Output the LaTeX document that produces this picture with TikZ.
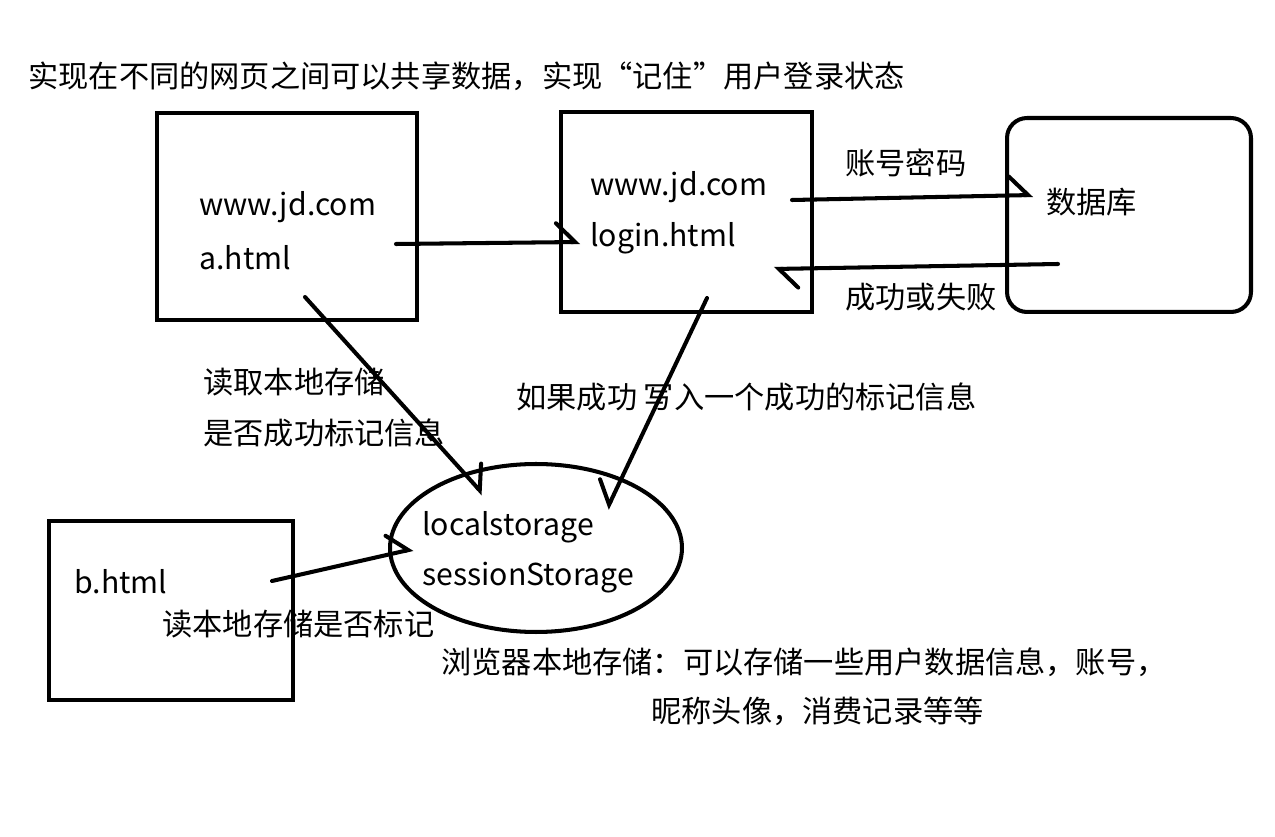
\documentclass[tikz,border=0pt]{standalone}
\usepackage{fontspec}
\setmainfont{Noto Sans CJK SC}
\usetikzlibrary{arrows.meta,shapes.geometric}

\tikzset{
  pen/.style={line width=2.3pt},
  box/.style={pen, draw=black, inner sep=0pt},
  note/.style={anchor=west, inner sep=0pt, font=\fontsize{17.2}{21}\selectfont},
  stroke/.style={pen, line cap=round, -{Straight Barb[harpoon, length=0.38cm, width=0.76cm, line cap=round]}},
  strokeswap/.style={pen, line cap=round, -{Straight Barb[harpoon, swap, length=0.38cm, width=0.76cm, line cap=round]}},
}

\begin{document}
\begin{tikzpicture}[x=0.02cm, y=-0.02cm]
  \useasboundingbox (0,0) rectangle (1275,837);

  %%%%% BOXES %%%%%
  \node[box, minimum width=5.2cm, minimum height=4.14cm] (pageA) at (287,216.5) {};
  \node[box, minimum width=5.02cm, minimum height=4.0cm] (pageLogin) at (686.5,212) {};
  \node[box, rounded corners=0.4cm, minimum width=4.88cm, minimum height=3.88cm] (db) at (1129,215) {};
  \node[box, minimum width=4.88cm, minimum height=3.58cm] (pageB) at (171,610.5) {};
  \node[box, ellipse, minimum width=5.84cm, minimum height=3.36cm] (store) at (536,548) {};

  %%%%% TEXTS %%%%%
  \node[note] (title) at (28,76) {实现在不同的网页之间可以共享数据，实现“记住”用户登录状态};
  \node[note] (aHost) at (199,207) {www.jd.com};
  \node[note] (aFile) at (199,258) {a.html};
  \node[note] (loginHost) at (590,187) {www.jd.com};
  \node[note] (loginFile) at (590,238) {login.html};
  \node[note] (dbName) at (1046,202) {数据库};
  \node[note] (sendLabel) at (845,163) {账号密码};
  \node[note] (backLabel) at (845,297) {成功或失败};
  \node[note] (readA) at (203,382) {读取本地存储};
  \node[note] (readB) at (203,433) {是否成功标记信息};
  \node[note] (writeLabel) at (516,397) {如果成功 写入一个成功的标记信息};
  \node[note] (local) at (422,527) {localstorage};
  \node[note] (session) at (422,578) {sessionStorage};
  \node[note] (bFile) at (74,582) {b.html};
  \node[note] (readBLabel) at (162,624) {读本地存储是否标记};
  \node[note] (info) at (441,662) {浏览器本地存储：可以存储一些用户数据信息，账号，};
  \node[note] (infoMore) at (651,711) {昵称头像，消费记录等等};

  %%%%% ARROWS %%%%%
  \coordinate (aOut) at (396,244);
  \coordinate (loginIn) at (580,242);
  \coordinate (loginOut) at (792,200);
  \coordinate (dbIn) at (1033,195);
  \coordinate (dbOut) at (1058,264);
  \coordinate (loginBack) at (774,269);
  \coordinate (aDown) at (305,297);
  \coordinate (storeTopL) at (483,494);
  \coordinate (loginDown) at (707,298);
  \coordinate (storeTopR) at (607,509);
  \coordinate (bOut) at (272,581);
  \coordinate (storeLeft) at (413,549);

  \draw[stroke] (aOut) -- (loginIn);
  \draw[stroke] (loginOut) -- (dbIn);
  \draw[stroke] (dbOut) -- (loginBack);
  \draw[stroke] (aDown) -- (storeTopL);
  \draw[strokeswap] (loginDown) -- (storeTopR);
  \draw[stroke] (bOut) -- (storeLeft);
\end{tikzpicture}
\end{document}
